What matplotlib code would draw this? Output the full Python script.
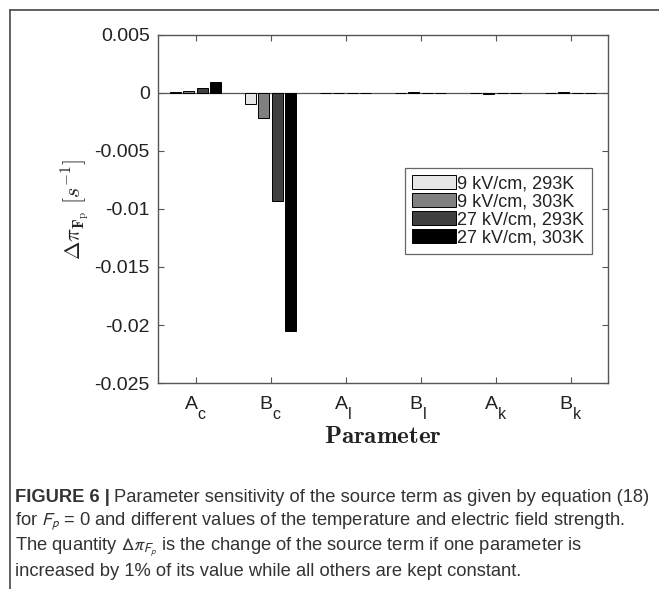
import numpy as np
import matplotlib
matplotlib.use("Agg")
import matplotlib.pyplot as plt
from matplotlib.lines import Line2D

plt.rcParams['font.family'] = ['Liberation Sans', 'DejaVu Sans']
plt.rcParams['mathtext.fontset'] = 'cm'

# data
params = ['A_c', 'B_c', 'A_l', 'B_l', 'A_k', 'B_k']
series_labels = ['9 kV/cm, 293K', '9 kV/cm, 303K', '27 kV/cm, 293K', '27 kV/cm, 303K']
val_9_293 = [0.00008, -0.00092, -0.00002, 0.00003, -0.00003, 0.00002]
val_9_303 = [0.00014, -0.00216, -0.00003, 0.00010, -0.00012, 0.00010]
val_27_293 = [0.00046, -0.0093, -0.00002, 0.00002, -0.00002, 0.00002]
val_27_303 = [0.00098, -0.0205, -0.00003, 0.00002, -0.00002, 0.00002]
y_ticks = [0.005, 0, -0.005, -0.01, -0.015, -0.02, -0.025]
y_tick_labels = ['0.005', '0', '-0.005', '-0.01', '-0.015', '-0.02', '-0.025']

colors = ['#e6e6e6', '#808080', '#404040', '#000000']
series = [val_9_293, val_9_303, val_27_293, val_27_303]

fig = plt.figure(figsize=(6.59, 5.89), dpi=100)
ax = fig.add_axes([0.2398, 0.3497, 0.683, 0.591])

x = np.arange(1, len(params) + 1)
w = 0.146
offsets = [-0.27, -0.09, 0.09, 0.27]
for vals, off, c, lab in zip(series, offsets, colors, series_labels):
    ax.bar(x + off, vals, width=w, color=c, edgecolor='black', linewidth=0.7, label=lab, zorder=3)

ax.axhline(0, color='#555555', linewidth=0.9, zorder=2)

ax.set_xlim(0.5, 6.5)
ax.set_ylim(-0.025, 0.005)
ax.set_xticks(x)
ax.set_xticklabels([])
ax.set_yticks(y_ticks)
ax.set_yticklabels(y_tick_labels, fontsize=14)
ax.tick_params(direction='in', length=4, width=0.8, color='#555555',
               top=True, right=True, labelcolor='#222222', pad=6)
for s in ax.spines.values():
    s.set_color('#555555')
    s.set_linewidth(1.0)

# x tick labels: letter plus lowered subscript (MATLAB tex style)
for xi, p in zip(x, params):
    main, sub = p.split('_')
    ax.annotate(main, xy=(xi, 0), xycoords=('data', 'axes fraction'),
                xytext=(1.5, -19), textcoords='offset points',
                ha='right', va='baseline', fontsize=14, color='#222222')
    ax.annotate(sub, xy=(xi, 0), xycoords=('data', 'axes fraction'),
                xytext=(1.5, -26), textcoords='offset points',
                ha='left', va='baseline', fontsize=11.5, color='#222222')

ax.set_ylabel('$\\Delta\\pi_{\\mathbf{F}_{\\mathrm{p}}}\\ [s^{-1}]$', fontsize=16, labelpad=2, color='#222222')
fig.text(383 / 659, 1 - 443 / 589, '$\\mathbf{Parameter}$', fontsize=18,
         ha='center', va='baseline', color='#222222')

leg = ax.legend(loc='upper left', bbox_to_anchor=(0.549, 0.618), borderaxespad=0,
                fontsize=13, frameon=True, fancybox=False, edgecolor='#666666',
                framealpha=1, borderpad=0.4, labelspacing=0.05, handlelength=2.4,
                handleheight=0.8, handletextpad=0.1)
leg.get_frame().set_linewidth(0.9)
for t in leg.get_texts():
    t.set_color('#222222')

# outer frame (left and top only)
fig.add_artist(Line2D([10 / 659, 10 / 659], [0, 1 - 10 / 589], color='#555555', linewidth=1.3))
fig.add_artist(Line2D([10 / 659, 1], [1 - 10 / 589, 1 - 10 / 589], color='#555555', linewidth=1.3))

# caption
cap_x = 15 / 659
cap_kw = dict(fontsize=13.2, color='#333333', va='center', ha='left', math_fontfamily='stixsans')
t1 = fig.text(cap_x, 1 - 498 / 589, 'FIGURE 6 |', fontweight='bold', **cap_kw)
fig.canvas.draw()
bb = t1.get_window_extent()
fig.text(bb.x1 / fig.bbox.width + 0.006, 1 - 498 / 589,
         'Parameter sensitivity of the source term as given by equation (18)', **cap_kw)
fig.text(cap_x, 1 - 522 / 589,
         'for $F_p$ = 0 and different values of the temperature and electric field strength.', **cap_kw)
fig.text(cap_x, 1 - 547 / 589,
         'The quantity $\\Delta\\pi_{F_p}$ is the change of the source term if one parameter is', **cap_kw)
fig.text(cap_x, 1 - 571 / 589,
         'increased by 1% of its value while all others are kept constant.', **cap_kw)

fig.savefig('out.png', dpi=100)
